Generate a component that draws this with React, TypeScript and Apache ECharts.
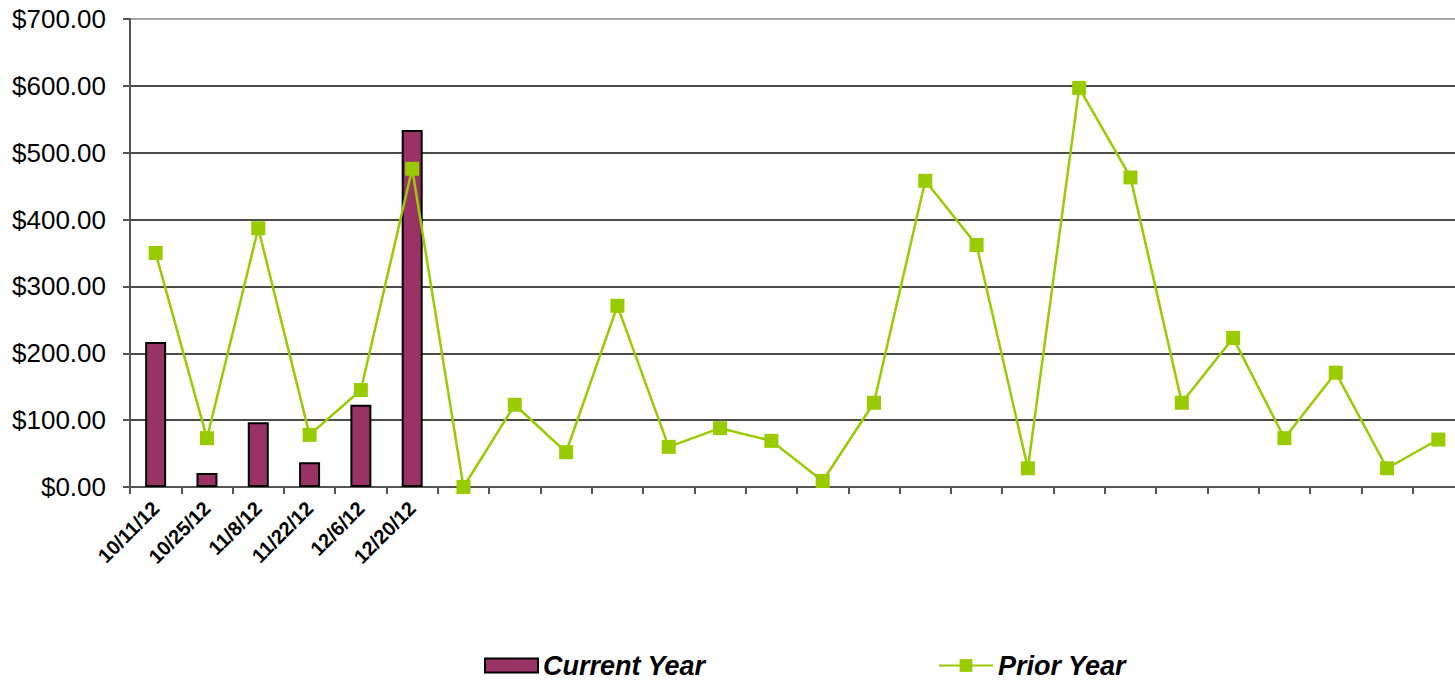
import React, { useEffect, useRef } from "react";
import * as echarts from "echarts";

const categories = [
  "10/11/12", "10/25/12", "11/8/12", "11/22/12", "12/6/12", "12/20/12",
  "", "", "", "", "", "", "", "", "", "", "", "", "", "", "", "", "", "", "", "",
];
const currentYear: (number | null)[] = [217, 21, 97, 37, 123, 534];
const priorYear = [350, 73, 387, 78, 145, 476, 0, 123, 52, 271, 60, 88, 69, 9, 126, 458, 362, 28, 597, 463, 126, 223, 73, 171, 28, 71];
const yTicks = { min: 0, max: 700, interval: 100 };

export default function App() {
  const ref = useRef<HTMLDivElement>(null);
  useEffect(() => {
    if (!ref.current) return;
    const chart = echarts.init(ref.current, null, { renderer: "svg" });
    const font = "Arial, 'Liberation Sans', Helvetica, sans-serif";
    const cur = categories.map((_, i) => (i < currentYear.length ? currentYear[i] : null));
    const legendText = {
      fontSize: 27,
      lineHeight: 27,
      fontWeight: "bold",
      fontStyle: "italic",
      color: "#000",
      fontFamily: font,
    };
    chart.setOption({
      animation: false,
      backgroundColor: "#fff",
      textStyle: { fontFamily: font },
      grid: { left: 130, top: 19, bottom: 194, right: -9, containLabel: false, outerBoundsMode: "none" },
      legend: [
        {
          data: [{ name: "Current Year", icon: "rect" }],
          left: 479,
          top: 650,
          padding: [2, 5],
          itemWidth: 53,
          itemHeight: 14,
          itemGap: 6,
          textStyle: legendText,
        },
        {
          data: ["Prior Year"],
          left: 933,
          top: 650,
          padding: [2, 5],
          itemWidth: 54,
          itemHeight: 16,
          textStyle: legendText,
        },
      ],
      xAxis: {
        type: "category",
        data: categories,
        boundaryGap: true,
        axisLine: { show: true, lineStyle: { color: "#555", width: 2 } },
        axisTick: { show: true, interval: 0, length: 7, lineStyle: { color: "#555", width: 2 } },
        axisLabel: {
          interval: 0,
          rotate: 45,
          fontSize: 20,
          fontWeight: "bold",
          color: "#000",
          margin: 18,
          fontFamily: font,
        },
        splitLine: { show: false },
      },
      yAxis: {
        type: "value",
        min: yTicks.min,
        max: yTicks.max,
        interval: yTicks.interval,
        axisLine: { show: true, lineStyle: { color: "#555", width: 2 } },
        axisTick: { show: true, length: 7, lineStyle: { color: "#555", width: 2 } },
        axisLabel: {
          formatter: (v: number) => "$" + v.toFixed(2),
          fontSize: 26,
          color: "#000",
          margin: 24,
          fontFamily: font,
        },
        splitLine: {
          show: true,
          lineStyle: { color: ["#111", "#111", "#111", "#111", "#111", "#111", "#111", "#888"], width: 1.5 },
        },
      },
      series: [
        {
          name: "Current Year",
          type: "bar",
          data: cur,
          barWidth: 21,
          itemStyle: { color: "#993366", borderColor: "#000", borderWidth: 2 },
          z: 2,
        },
        {
          name: "Prior Year",
          type: "line",
          data: priorYear,
          symbol: "rect",
          symbolSize: 14,
          itemStyle: { color: "#99cc00" },
          lineStyle: { color: "#99cc00", width: 2.5 },
          z: 3,
        },
      ],
    });
    return () => chart.dispose();
  }, []);
  return <div ref={ref} style={{ position: "absolute", left: 0, top: 0, width: 1455, height: 681 }} />;
}
